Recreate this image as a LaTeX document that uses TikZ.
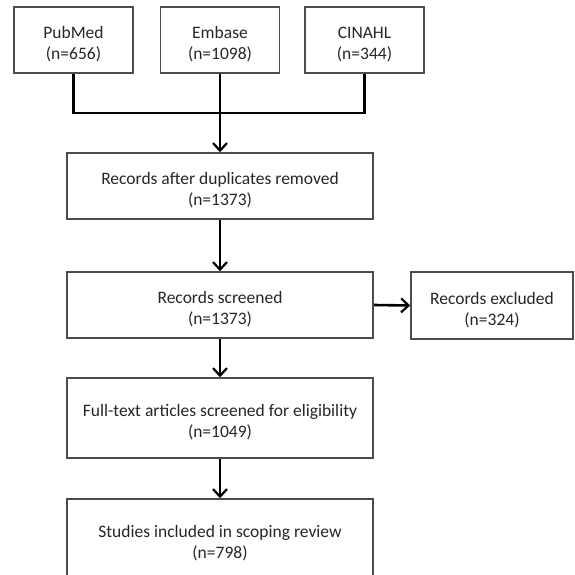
\documentclass[tikz,border=0pt]{standalone}
\usepackage{fontspec}
\setmainfont{Carlito}
\usetikzlibrary{arrows.meta}
\begin{document}
\begin{tikzpicture}[x=1pt,y=-1pt,
  box/.style={draw=black!70, line width=1.6pt, align=center, inner sep=0pt,
    text=black!85, font=\fontsize{17.5}{21}\selectfont, text height=42pt},
  src/.style={box, minimum width=119pt, minimum height=66pt},
  main/.style={box, minimum width=306pt},
  conn/.style={line width=2.6pt, black},
  arr/.style={conn, -{Straight Barb[length=7.5pt,width=14pt,line width=2.2pt]}}]
\useasboundingbox (0,0) rectangle (574,575);
\clip (0,0) rectangle (574,575);
\fill[white] (0,0) rectangle (574,575);
\node[src] (pub) at (73.5,40) {PubMed\\(n=656)};
\node[src] (emb) at (220,40) {Embase\\(n=1098)};
\node[src] (cin) at (364.5,40) {CINAHL\\(n=344)};
\node[main, minimum height=66pt] (dup) at (220,186) {Records after duplicates removed\\(n=1373)};
\node[main, minimum height=66pt] (scr) at (220,305) {Records screened\\(n=1373)};
\node[box, minimum width=162pt, minimum height=67pt] (exc) at (492,305.5) {Records excluded\\(n=324)};
\node[main, minimum height=80pt] (full) at (220,418) {Full-text articles screened for eligibility\\(n=1049)};
\node[main, minimum height=79pt] (inc) at (220,538.5) {Studies included in scoping review\\(n=798)};
\coordinate (j) at (220,113);
\draw[conn] (pub.south) |- (j) -| (cin.south);
\draw[arr] (emb.south) -- (dup.north);
\draw[arr] (dup.south) -- (scr.north);
\draw[arr] (scr.east) -- (exc.west);
\draw[arr] (scr.south) -- (full.north);
\draw[arr] (full.south) -- (inc.north);
\end{tikzpicture}
\end{document}
